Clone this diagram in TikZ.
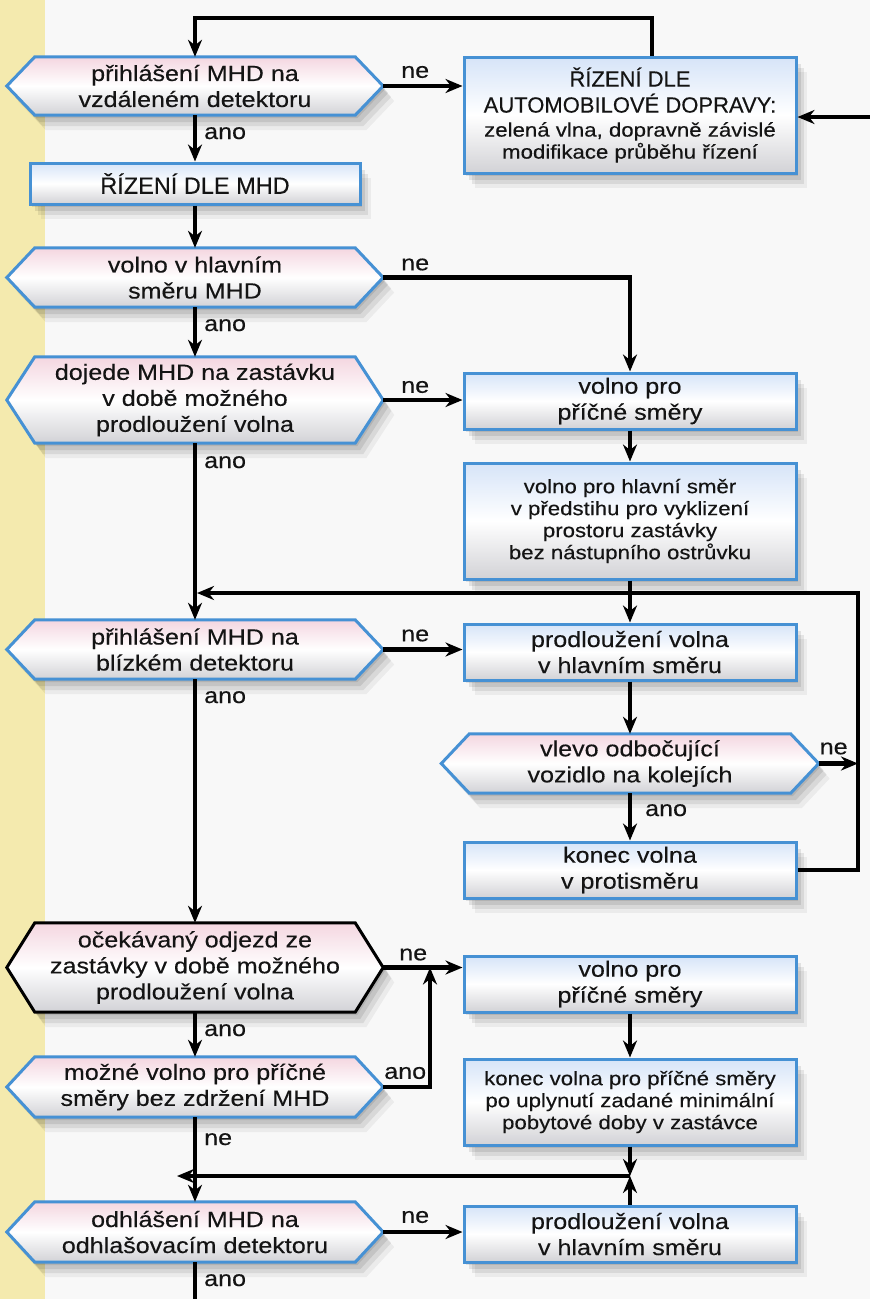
\documentclass[tikz,border=0pt]{standalone}
\usepackage{fontspec}
\setmainfont{Liberation Sans}[FakeStretch=1.14,FakeBold=0.3]
\newfontfamily\capfont{Liberation Sans}[FakeBold=0.3]
\usetikzlibrary{arrows.meta,shadows,calc}
\pgfdeclarelayer{back}
\pgfdeclarelayer{bg}
\pgfsetlayers{bg,back,main}
\definecolor{bord}{RGB}{70,145,212}
\definecolor{boxtop}{RGB}{214,228,248}
\definecolor{hextop}{RGB}{244,214,224}
\definecolor{shadbot}{RGB}{210,210,214}
\definecolor{yel}{RGB}{244,234,174}
\definecolor{bgc}{RGB}{248,248,248}
\definecolor{txt}{RGB}{20,20,20}
\tikzset{
 softshadow/.style={
   drop shadow={shadow xshift=2pt, shadow yshift=-3pt, opacity=0.09, fill=black},
   drop shadow={shadow xshift=5pt, shadow yshift=-7pt, opacity=0.09, fill=black},
   drop shadow={shadow xshift=8pt, shadow yshift=-11pt, opacity=0.08, fill=black},
   drop shadow={shadow xshift=11pt, shadow yshift=-15pt, opacity=0.05, fill=black}},
 base/.style={font=\fontsize{22}{26}\selectfont, text=txt, align=center, inner sep=0pt},
 box/.style={base, draw=bord, line width=3pt, top color=boxtop, bottom color=shadbot, middle color=white, minimum width=332pt, softshadow},
 hexnode/.style={base, minimum width=376pt},
 hexfill/.style={line width=3pt, top color=hextop, bottom color=shadbot, middle color=white, softshadow},
 arr/.style={line width=4.8pt, -{Stealth[length=17pt,width=14pt,inset=5.5pt]}},
 ln/.style={line width=4.8pt},
 lbl/.style={font=\fontsize{22}{26}\selectfont, text=txt, inner sep=0pt},
}
\newcommand\hexpath[2][bord]{%
\begin{pgfonlayer}{back}
\path[hexfill, draw=#1] ([xshift=28pt]#2.north west) -- ([xshift=-28pt]#2.north east) -- (#2.east) -- ([xshift=-28pt]#2.south east) -- ([xshift=28pt]#2.south west) -- (#2.west) -- cycle;
\end{pgfonlayer}}
\newcommand\smf{\fontsize{19.5}{21}\selectfont}
\begin{document}
\begin{tikzpicture}[x=1pt,y=-1pt]
\useasboundingbox (0,0) rectangle (870,1299);
\begin{pgfonlayer}{bg}
\fill[bgc] (0,0) rectangle (870,1299);
\fill[yel] (0,0) rectangle (45,1299);
\end{pgfonlayer}
% nodes
\node[hexnode, minimum height=58pt] (h1) at (195,86) {přihlášení MHD na\\vzdáleném detektoru};
\node[box, minimum width=330pt, minimum height=41pt] (mhd) at (195,183.5) {{\capfont\fontsize{23.5}{26}\selectfont ŘÍZENÍ DLE MHD}};
\node[box, minimum height=116pt] (auto) at (630,115) {{\capfont ŘÍZENÍ DLE}\\{\capfont AUTOMOBILOVÉ DOPRAVY:}\\[-2pt]{\smf zelená vlna, dopravně závislé}\\[-4pt]{\smf modifikace průběhu řízení}};
\node[hexnode, minimum height=59pt] (h2) at (195,277.5) {volno v hlavním\\směru MHD};
\node[hexnode, minimum height=86pt] (h3) at (195,400) {dojede MHD na zastávku\\v době možného\\prodloužení volna};
\node[box, minimum height=56pt] (b6) at (630,401) {volno pro\\příčné směry};
\node[box, minimum height=116pt] (b7) at (630,521) {{\smf volno pro hlavní směr}\\[-4pt]{\smf v předstihu pro vyklizení}\\[-4pt]{\smf prostoru zastávky}\\[-4pt]{\smf bez nástupního ostrůvku}};
\node[hexnode, minimum height=59pt] (h4) at (195,649.5) {přihlášení MHD na\\blízkém detektoru};
\node[box, minimum height=56pt] (b9) at (630,652) {prodloužení volna\\v hlavním směru};
\node[hexnode, minimum width=377pt, minimum height=59pt] (h5) at (630,763.5) {vlevo odbočující\\vozidlo na kolejích};
\node[box, minimum height=56pt] (b11) at (630,870) {konec volna\\v protisměru};
\node[hexnode, minimum height=89pt] (h6) at (195,967.5) {očekávaný odjezd ze\\zastávky v době možného\\prodloužení volna};
\node[box, minimum height=56pt] (b13) at (630,984) {volno pro\\příčné směry};
\node[box, minimum height=86pt] (b14) at (630,1102) {{\smf konec volna pro příčné směry}\\[-4pt]{\smf po uplynutí zadané minimální}\\[-4pt]{\smf pobytové doby v zastávce}};
\node[hexnode, minimum height=60pt] (h7) at (195,1087) {možné volno pro příčné\\směry bez zdržení MHD};
\node[hexnode, minimum height=60pt] (h8) at (195,1232) {odhlášení MHD na\\odhlašovacím detektoru};
\node[box, minimum height=56pt] (b16) at (630,1234) {prodloužení volna\\v hlavním směru};
\hexpath{h1}\hexpath{h2}\hexpath{h3}\hexpath{h4}\hexpath{h5}\hexpath[black]{h6}\hexpath{h7}\hexpath{h8}
% connectors
\coordinate (top) at (400,18);
\draw[arr] ([xshift=22pt]auto.north) |- (top) -| (h1.north);
\coordinate (rin) at (870,117);
\draw[arr] (rin) -- (rin -| auto.east);
\draw[arr] (h1.east) -- (h1.east -| auto.west);
\draw[arr] (h1.south) -- (mhd.north);
\draw[arr] (mhd.south) -- (h2.north);
\draw[arr] (h2.east) -| (b6.north);
\draw[arr] (h2.south) -- (h3.north);
\draw[arr] (h3.east) -- (h3.east -| b6.west);
\draw[arr] (b6.south) -- (b7.north);
\draw[arr] (b7.south) -- (b9.north);
\draw[arr] (h3.south) -- (h4.north);
\coordinate (m1) at (858,593);
\draw[arr] (b11.east) -| (m1) -- ([xshift=2pt]m1 -| h4.north);
\draw[arr] (h5.east) -- (h5.east -| m1);
\draw[arr] (h4.east) -- (h4.east -| b9.west);
\draw[arr] (b9.south) -- (h5.north);
\draw[arr] (h5.south) -- (b11.north);
\draw[arr] (h4.south) -- (h6.north);
\draw[arr] (h6.east) -- (h6.east -| b13.west);
\coordinate (j) at (430,1000);
\draw[arr] (h7.east) -| (j |- h6.east);
\draw[arr] (h6.south) -- (h7.north);
\draw[arr] (b13.south) -- (b14.north);
\coordinate (m2) at (630,1176);
\draw[arr] (b14.south) -- (m2);
\draw[arr] (b16.north) -- (m2);
\coordinate (m2end) at (177,1176);
\draw[arr] (m2) -- (m2end);
\draw[arr] (h7.south) -- (h8.north);
\draw[arr] (h8.east) -- (h8.east -| b16.west);
\coordinate (bot) at (195,1299);
\draw[ln] (h8.south) -- (bot);
% labels
\node[lbl] at ([xshift=32pt,yshift=14pt]h1.east) {ne};
\node[lbl] at ([xshift=32pt,yshift=13pt]h2.east) {ne};
\node[lbl] at ([xshift=32pt,yshift=13pt]h3.east) {ne};
\node[lbl] at ([xshift=32pt,yshift=14pt]h4.east) {ne};
\node[lbl] at ([xshift=15pt,yshift=15pt]h5.east) {ne};
\node[lbl] at ([xshift=30pt,yshift=13pt]h6.east) {ne};
\node[lbl] at ([xshift=22pt,yshift=14pt]h7.east) {ano};
\node[lbl] at ([xshift=32pt,yshift=15pt]h8.east) {ne};
\node[lbl, anchor=west] at ([xshift=9pt,yshift=-18pt]h1.south) {ano};
\node[lbl, anchor=west] at ([xshift=9pt,yshift=-18pt]h2.south) {ano};
\node[lbl, anchor=west] at ([xshift=9pt,yshift=-19pt]h3.south) {ano};
\node[lbl, anchor=west] at ([xshift=9pt,yshift=-18pt]h4.south) {ano};
\node[lbl, anchor=west] at ([xshift=15pt,yshift=-17pt]h5.south) {ano};
\node[lbl, anchor=west] at ([xshift=9pt,yshift=-18pt]h6.south) {ano};
\node[lbl, anchor=west] at ([xshift=9pt,yshift=-22pt]h7.south) {ne};
\node[lbl, anchor=west] at ([xshift=9pt,yshift=-18pt]h8.south) {ano};
\end{tikzpicture}
\end{document}
